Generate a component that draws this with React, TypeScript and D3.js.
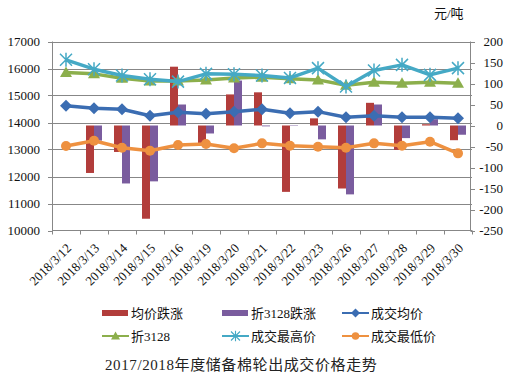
import React, { useEffect, useRef } from 'react'
import * as d3 from 'd3'

const dates = [
  '2018/3/12', '2018/3/13', '2018/3/14', '2018/3/15', '2018/3/16',
  '2018/3/19', '2018/3/20', '2018/3/21', '2018/3/22', '2018/3/23',
  '2018/3/26', '2018/3/27', '2018/3/28', '2018/3/29', '2018/3/30',
]
// right axis (元/吨 change)
const avgChange = [0, -113, -63, -222, 140, -43, 74, 79, -158, 17, -150, 54, -58, 3, -35]
const f3128Change = [0, -36, -138, -133, 50, -19, 107, -2, -1, -33, -164, 50, -30, 15, -22]
// left axis prices
const avgPrice = [14624, 14528, 14490, 14253, 14380, 14327, 14402, 14490, 14342, 14402, 14194, 14253, 14194, 14194, 14157]
const f3128Price = [15850, 15801, 15641, 15541, 15541, 15578, 15650, 15678, 15616, 15578, 15382, 15493, 15456, 15493, 15456]
const highPrice = [16321, 15975, 15738, 15604, 15515, 15801, 15790, 15740, 15650, 16013, 15333, 15924, 16135, 15764, 16013]
const lowPrice = [13128, 13325, 13065, 12954, 13166, 13203, 13043, 13228, 13140, 13103, 13065, 13228, 13140, 13288, 12857]

const leftTicks = [10000, 11000, 12000, 13000, 14000, 15000, 16000, 17000]
const rightTicks = [-250, -200, -150, -100, -50, 0, 50, 100, 150, 200]

const RED = '#B23D3B'
const PURPLE = '#7A5C9E'
const BLUE = '#3B6DB2'
const GREEN = '#8CAF4C'
const TEAL = '#45A9C5'
const ORANGE = '#EE9140'
const GRID = '#878787'
const FONT = "'Liberation Serif', 'Noto Sans CJK SC', serif"

const App = () => {
  const svgRef = useRef(null)

  useEffect(() => {
    const svg = d3.select(svgRef.current)
    svg.selectAll('*').remove()

    const left = 52
    const right = 472
    const top = 41.5
    const bottom = 230.5

    const x = d3.scaleBand().domain(dates).range([left, right])
    const cx = (i) => x(dates[i]) + x.bandwidth() / 2
    const yL = d3.scaleLinear().domain([10000, 17000]).range([bottom, top])
    const yR = d3.scaleLinear().domain([-250, 200]).range([bottom, top])

    // gridlines
    svg.append('g')
      .selectAll('line')
      .data(leftTicks.slice(1))
      .enter()
      .append('line')
      .attr('x1', left).attr('x2', right)
      .attr('y1', (d) => Math.round(yL(d)) + 0.5)
      .attr('y2', (d) => Math.round(yL(d)) + 0.5)
      .attr('stroke', GRID)

    // bars
    const barW = 8
    const bars = svg.append('g')
    dates.forEach((d, i) => {
      const c = cx(i)
      const r = avgChange[i]
      const p = f3128Change[i]
      bars.append('rect')
        .attr('x', c - barW).attr('width', barW)
        .attr('y', Math.min(yR(r), yR(0))).attr('height', Math.abs(yR(r) - yR(0)))
        .attr('fill', RED)
      bars.append('rect')
        .attr('x', c).attr('width', barW)
        .attr('y', Math.min(yR(p), yR(0))).attr('height', Math.abs(yR(p) - yR(0)))
        .attr('fill', PURPLE)
    })

    // axes
    const axes = svg.append('g').attr('stroke', GRID)
    axes.append('line').attr('x1', left + 0.5).attr('x2', left + 0.5).attr('y1', top).attr('y2', bottom)
    axes.append('line').attr('x1', right - 1.5).attr('x2', right - 1.5).attr('y1', top).attr('y2', bottom)
    axes.append('line').attr('x1', left).attr('x2', right).attr('y1', bottom).attr('y2', bottom)
    leftTicks.forEach((t) => {
      const yy = Math.round(yL(t)) + 0.5
      axes.append('line').attr('x1', left - 4).attr('x2', left).attr('y1', yy).attr('y2', yy)
    })
    rightTicks.forEach((t) => {
      const yy = Math.round(yR(t)) + 0.5
      axes.append('line').attr('x1', right - 1.5).attr('x2', right + 3).attr('y1', yy).attr('y2', yy)
    })
    dates.concat(['end']).forEach((d, i) => {
      const xx = left + i * x.bandwidth()
      axes.append('line').attr('x1', xx + 0.5).attr('x2', xx + 0.5).attr('y1', bottom).attr('y2', bottom + 4)
    })

    // tick labels
    const labels = svg.append('g').attr('font-family', FONT).attr('font-size', 13).attr('fill', '#111')
    leftTicks.forEach((t) => {
      labels.append('text').attr('x', 40).attr('y', yL(t) + 4.5).attr('text-anchor', 'end').text(t)
    })
    rightTicks.forEach((t) => {
      labels.append('text').attr('x', 503).attr('y', yR(t) + 4.5).attr('text-anchor', 'end').text(t)
    })
    dates.forEach((d, i) => {
      const ax = cx(i) + 6
      const ay = 249
      labels.append('text')
        .attr('transform', `translate(${ax},${ay}) rotate(-45)`)
        .attr('text-anchor', 'end')
        .attr('font-size', 13)
        .text(d)
    })
    labels.append('text').attr('x', 434).attr('y', 18).attr('font-size', 13).text('元/吨')

    // lines
    const lineGen = (scale) => d3.line().x((d, i) => cx(i)).y((d) => scale(d))
    const series = [
      { data: avgPrice, color: BLUE, marker: 'diamond' },
      { data: f3128Price, color: GREEN, marker: 'triangle' },
      { data: highPrice, color: TEAL, marker: 'star' },
      { data: lowPrice, color: ORANGE, marker: 'circle' },
    ]

    const drawMarker = (g, type, color, px, py) => {
      if (type === 'diamond') {
        g.append('path').attr('d', `M${px},${py - 6}L${px + 6},${py}L${px},${py + 6}L${px - 6},${py}Z`).attr('fill', color)
      } else if (type === 'triangle') {
        g.append('path').attr('d', `M${px},${py - 6}L${px + 6},${py + 4.5}L${px - 6},${py + 4.5}Z`).attr('fill', color)
      } else if (type === 'circle') {
        g.append('circle').attr('cx', px).attr('cy', py).attr('r', 5).attr('fill', color)
      } else {
        const s = 6
        g.append('path')
          .attr('d', `M${px - s},${py - s}L${px + s},${py + s}M${px - s},${py + s}L${px + s},${py - s}M${px},${py - s - 1}L${px},${py + s + 1}`)
          .attr('stroke', color).attr('stroke-width', 1.5)
      }
    }

    series.forEach((s) => {
      const g = svg.append('g')
      g.append('path')
        .datum(s.data)
        .attr('d', lineGen(yL))
        .attr('fill', 'none')
        .attr('stroke', s.color)
        .attr('stroke-width', 3.5)
        .attr('stroke-linejoin', 'round')
      s.data.forEach((v, i) => drawMarker(g, s.marker, s.color, cx(i), yL(v)))
    })

    // legend
    const legend = svg.append('g').attr('font-family', FONT).attr('font-size', 13).attr('fill', '#111')
    const items = [
      { name: '均价跌涨', color: RED, kind: 'bar', lx: 102, ly: 313 },
      { name: '折3128跌涨', color: PURPLE, kind: 'bar', lx: 222, ly: 313 },
      { name: '成交均价', color: BLUE, kind: 'diamond', lx: 342, ly: 313 },
      { name: '折3128', color: GREEN, kind: 'triangle', lx: 102, ly: 336 },
      { name: '成交最高价', color: TEAL, kind: 'star', lx: 222, ly: 336 },
      { name: '成交最低价', color: ORANGE, kind: 'circle', lx: 342, ly: 336 },
    ]
    items.forEach((it) => {
      if (it.kind === 'bar') {
        legend.append('rect').attr('x', it.lx).attr('y', it.ly - 3).attr('width', 26).attr('height', 6).attr('fill', it.color)
      } else {
        legend.append('line').attr('x1', it.lx).attr('x2', it.lx + 27).attr('y1', it.ly).attr('y2', it.ly)
          .attr('stroke', it.color).attr('stroke-width', 2)
        const mg = legend.append('g').attr('transform', `translate(${it.lx + 13.5},${it.ly}) scale(0.75) translate(${-(it.lx + 13.5)},${-it.ly})`)
        drawMarker(mg, it.kind, it.color, it.lx + 13.5, it.ly)
      }
      legend.append('text').attr('x', it.lx + 29).attr('y', it.ly + 5).text(it.name)
    })

    svg.append('text')
      .attr('x', 105).attr('y', 370)
      .attr('font-family', FONT).attr('font-size', 15).attr('fill', '#222')
      .attr('letter-spacing', 0.6)
      .text('2017/2018年度储备棉轮出成交价格走势')
  }, [])

  return (
    <svg
      ref={svgRef}
      width={515}
      height={385}
      style={{ position: 'absolute', left: 0, top: 0, background: '#fff' }}
    ></svg>
  )
}

export default App
